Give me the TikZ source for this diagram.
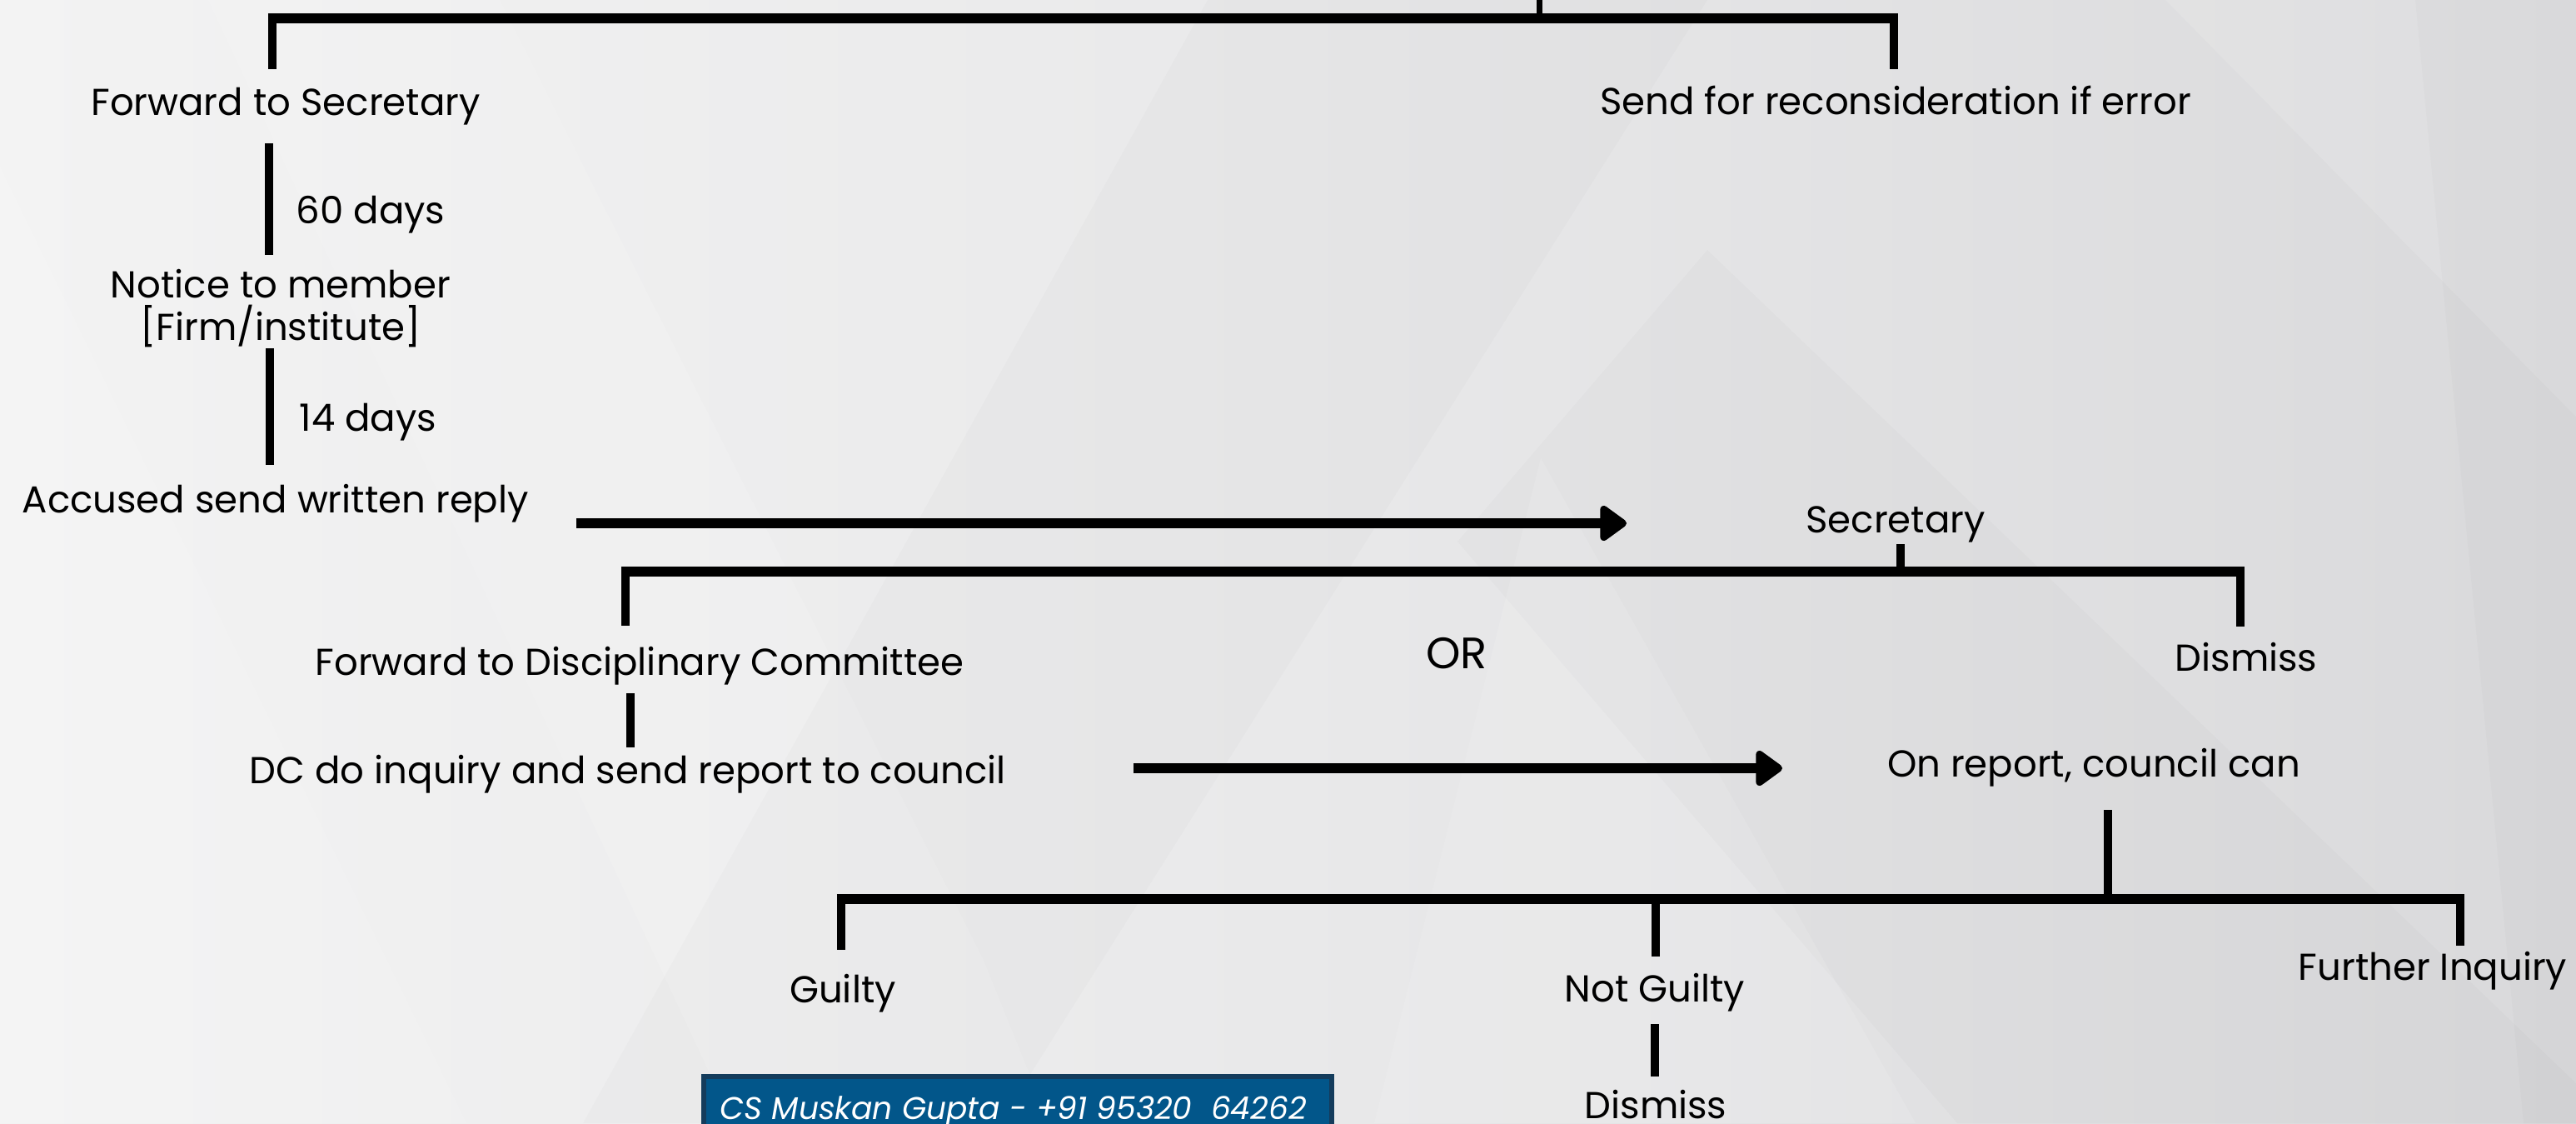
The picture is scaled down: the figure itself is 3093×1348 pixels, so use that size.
\documentclass[tikz,border=0pt]{standalone}
\usepackage{fontspec}
\setmainfont{Poppins}
\usetikzlibrary{arrows.meta}
\definecolor{bgleft}{HTML}{F3F3F3}
\definecolor{bgmid}{HTML}{E9E9EA}
\definecolor{bgright}{HTML}{D9D9DB}
\definecolor{wmfill}{HTML}{02568A}
\definecolor{wmedge}{HTML}{143C5C}
\begin{document}
\begin{tikzpicture}[x=0.01cm,y=-0.01cm,
  lbl/.style={inner sep=0pt, anchor=base, font=\fontsize{12.8}{15.4}\selectfont},
  lblw/.style={lbl, anchor=base west},
  conn/.style={line width=2.9pt, black},
  bar/.style={line width=3.6pt, black},
  flow/.style={line width=3.3pt, black, -{Triangle[length=0.35cm,width=0.48cm,round]}},
  facet/.style={fill=white, opacity=0.12, draw=none},
  shadefacet/.style={fill=black, opacity=0.015, draw=none}]
\useasboundingbox (0,0) rectangle (3093,1348);

% faceted grey backdrop
\shade[left color=bgleft, right color=bgright, middle color=bgmid] (0,0) rectangle (3093,1348);
\fill[facet] (0,200) -- (560,1348) -- (0,1348) -- cycle;
\fill[facet] (250,0) -- (880,1348) -- (1260,1348) -- (1180,1150) -- (600,0) -- cycle;
\fill[shadefacet] (1450,0) -- (2050,0) -- (1200,1348) -- (700,1348) -- cycle;
\fill[shadefacet] (2050,300) -- (3093,1300) -- (3093,1348) -- (2350,1348) -- (1750,650) -- cycle;
\fill[facet] (2600,0) -- (3093,500) -- (3093,0) -- cycle;
\fill[shadefacet] (2900,0) -- (3093,0) -- (3093,1348) -- (3030,1348) -- cycle;
\fill[facet] (1850,550) -- (2300,1348) -- (1650,1348) -- cycle;

% labels
\node[lbl] (fwdsec)  at (343,138)  {Forward to Secretary};
\node[lbl] (recon)   at (2276,137) {Send for reconsideration if error};
\node[lblw] (d60)    at (355,268)  {60 days};
\node[lbl] (notice)  at (337,357)  {Notice to member};
\node[lbl] (firm)    at (337,408)  {[Firm/institute]};
\node[lblw] (d14)    at (359,517)  {14 days};
\node[lblw] (reply)  at (26,615)   {Accused send written reply};
\node[lbl] (secy)    at (2276,639) {Secretary};
\node[lbl] (fwddc)   at (768,810)  {Forward to Disciplinary Committee};
\node[lbl, font=\fontsize{15}{18}\selectfont] (orw) at (1749,802) {OR};
\node[lbl] (dism1)   at (2697,805) {Dismiss};
\node[lbl] (dcinq)   at (754,940)  {DC do inquiry and send report to council};
\node[lbl] (onrep)   at (2514,932) {On report, council can};
\node[lbl] (guilty)  at (1012,1203) {Guilty};
\node[lbl] (notg)    at (1987,1202) {Not Guilty};
\node[lbl] (further) at (2921,1176) {Further Inquiry};
\node[lbl] (dism2)   at (1988,1342) {Dismiss};

% line end points
\coordinate (topin)  at (1848,0);
\coordinate (topj)   at (1848,22);
\coordinate (tl)     at (327,22);
\coordinate (tr)     at (2274,22);
\coordinate (tlend)  at (327,83);
\coordinate (trend)  at (2274,83);
\coordinate (s1a)    at (323,172);
\coordinate (s1b)    at (323,306);
\coordinate (s2a)    at (324,418);
\coordinate (s2b)    at (324,558);
\coordinate (a1s)    at (692,628);
\coordinate (a1e)    at (1953,628);
\coordinate (secj)   at (2282,653);
\coordinate (secb)   at (2282,686);
\coordinate (ml)     at (751,686);
\coordinate (mr)     at (2690,686);
\coordinate (mlend)  at (751,751);
\coordinate (mrend)  at (2690,752);
\coordinate (dca)    at (757,832);
\coordinate (dcb)    at (757,897);
\coordinate (a2s)    at (1361,922);
\coordinate (a2e)    at (2140,922);
\coordinate (onj)    at (2531,972);
\coordinate (onb)    at (2531,1079);
\coordinate (bl)     at (1010,1079);
\coordinate (bm)     at (1988,1079);
\coordinate (br)     at (2954,1079);
\coordinate (blend)  at (1010,1140);
\coordinate (bmend)  at (1988,1148);
\coordinate (brend)  at (2954,1135);
\coordinate (nga)    at (1987,1229);
\coordinate (ngb)    at (1987,1292);

% top split
\draw[conn, line width=2pt] (topin) -- (topj);
\draw[bar] ([xshift=-1.45pt]tl) -- ([xshift=1.45pt]tr);
\draw[conn] (tl) -- (tlend);
\draw[conn] (tr) -- (trend);

% left column
\draw[conn] (s1a) -- (s1b);
\draw[conn] (s2a) -- (s2b);
\draw[flow] (a1s) -- (a1e);

% secretary split
\draw[conn] (secj) -- (secb);
\draw[bar] ([xshift=-1.45pt]ml) -- ([xshift=1.45pt]mr);
\draw[conn] (ml) -- (mlend);
\draw[conn] (mr) -- (mrend);
\draw[conn] (dca) -- (dcb);
\draw[flow] (a2s) -- (a2e);

% council split
\draw[conn] (onj) -- (onb);
\draw[bar] ([xshift=-1.45pt]bl) -- ([xshift=1.45pt]br);
\draw[conn] (bl) -- (blend);
\draw[conn] (bm) -- (bmend);
\draw[conn] (br) -- (brend);
\draw[conn] (nga) -- (ngb);

% contact strip
\node[draw=wmedge, line width=1.7pt, fill=wmfill, minimum width=754*0.01cm, minimum height=90*0.01cm,
      anchor=north west, inner sep=0pt] (wm) at (842,1289) {};
\node[lblw, text=white, font=\fontsize{10.7}{13}\selectfont\itshape] (wmtext) at (864,1343)
      {CS Muskan Gupta - +91 95320\ \ 64262};
\end{tikzpicture}
\end{document}
